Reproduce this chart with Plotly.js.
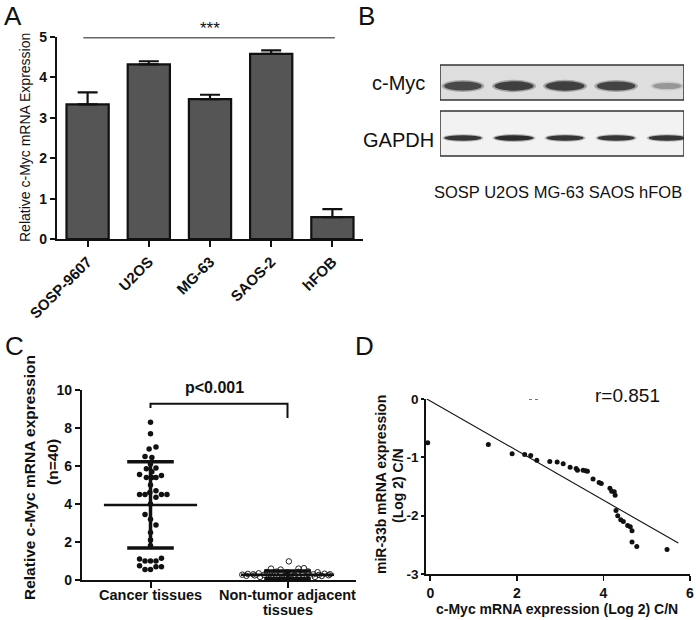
<!DOCTYPE html>
<html>
<head>
<meta charset="utf-8">
<script src="https://cdn.plot.ly/plotly-3.0.1.min.js"></script>
<style>html,body{margin:0;padding:0;background:#fff;}#chart{width:696px;height:620px;}</style>
</head>
<body>
<div id="chart"></div>
<script>
// ---------- DATA ----------
// Panel A: relative c-Myc mRNA expression in cell lines
const cellLines = ["SOSP-9607", "U2OS", "MG-63", "SAOS-2", "hFOB"];
const cellMeans = [3.33, 4.32, 3.46, 4.58, 0.54];
const cellErrs  = [0.30, 0.08, 0.11, 0.09, 0.20];

// Panel B: western blot lanes and band intensities (0-1)
const laneLabels = ["SOSP", "U2OS", "MG-63", "SAOS", "hFOB"];
const cmycIntensity  = [0.88, 0.95, 0.95, 0.93, 0.35];
const gapdhIntensity = [0.95, 1.00, 0.95, 0.95, 0.95];

// Panel C: tissue scatter (offset from group centre, value)
const tissueGroups = ["Cancer tissues", "Non-tumor adjacent<br>tissues"];
const cancerOffset = [0,0, -0.01,0.04, -0.04,0.01, -0.03,0.01,0.04, -0.08,-0.03,0.01,0.04,0.08,
  -0.08,-0.04,-0.005,0.04,0.04,0.08,0.12, -0.04,0.04, -0.08,-0.04,0,0.04,0.08,
  -0.08,-0.04,0,0.04,0.08, 0,0,0,0,0,0,0];
const cancerVals = [8.3,7.7, 6.9,7.0, 6.5,6.45, 5.85,5.7,5.9, 5.55,5.4,5.4,5.4,5.5,
  4.5,4.5,4.6,4.7,4.35,4.5,4.5, 3.45,2.9, 1.1,1.0,1.0,1.0,1.15,
  0.75,0.55,0.55,0.7,0.7, 4.0,3.2,2.5,2.1,1.8,5.0,6.1];
const normalOffset = [-0.33,-0.29,-0.25,-0.21,-0.17,-0.13,-0.09,-0.05,-0.01,0.03,0.07,0.11,0.15,0.19,0.23,0.27,0.31,
  -0.2,-0.12,-0.04,0.04,0.12,0.2, -0.15,-0.08,0.0,0.08,0.15,0.22,
  -0.12,-0.05,0.08,0.12, 0.01, -0.3,-0.24,0.25,0.3,-0.02,0.05];
const normalVals = [0.28,0.32,0.3,0.35,0.27,0.31,0.29,0.33,0.26,0.3,0.34,0.28,0.32,0.3,0.27,0.33,0.3,
  0.16,0.18,0.15,0.19,0.17,0.16, 0.42,0.44,0.4,0.43,0.45,0.41,
  0.6,0.55,0.6,0.62, 0.98, 0.22,0.24,0.21,0.25,0.2,0.23];
// [mean, lower SD, upper SD]
const cancerStats = [3.95, 1.68, 6.22];
const normalStats = [0.28, 0.08, 0.48];

// Panel D: correlation scatter
const corrX = [-0.06,1.34,1.89,2.18,2.32,2.46,2.76,2.93,3.07,3.23,3.37,3.40,3.53,3.59,3.63,3.76,3.90,3.95,
  4.15,4.19,4.25,4.27,4.29,4.33,4.40,4.46,4.56,4.62,4.66,4.66,4.77,5.47];
const corrY = [-0.75,-0.78,-0.94,-0.95,-0.97,-1.05,-1.07,-1.08,-1.11,-1.17,-1.19,-1.22,-1.22,-1.23,-1.24,-1.37,-1.43,-1.45,
  -1.53,-1.58,-1.59,-1.65,-1.91,-2.0,-2.07,-2.10,-2.17,-2.19,-2.26,-2.45,-2.53,-2.58];
const fitX = [-0.08, 5.73];
const fitY = [0.0, -2.47];

// ---------- HELPERS ----------
const W = 696, H = 620;
const px = v => v / W;
const py = v => 1 - v / H;
const FONT = 'Arial, "Liberation Sans", sans-serif';
const bold = (s) => ({family: FONT, size: s, color: '#111', weight: 'bold'});
const reg = (s) => ({family: FONT, size: s, color: '#111'});

const traces = [];
// A bars
traces.push({
  type: 'bar', x: cellLines, y: cellMeans, xaxis: 'x', yaxis: 'y', width: 0.69,
  marker: {color: '#555555', line: {color: '#111', width: 2.2}},
  error_y: {type: 'data', symmetric: false, array: cellErrs, arrayminus: cellErrs.map(() => 0),
            color: '#111', thickness: 2.2, width: 10},
  hoverinfo: 'skip'
});
// B invisible anchor trace
traces.push({type: 'scatter', mode: 'markers', x: laneLabels.map((_, i) => i), y: laneLabels.map(() => 5),
  xaxis: 'x5', yaxis: 'y5', marker: {opacity: 0}, hoverinfo: 'skip'});

// C scatter
traces.push({type: 'scatter', mode: 'markers', xaxis: 'x3', yaxis: 'y3',
  x: cancerOffset.map(o => 0 + o), y: cancerVals,
  marker: {color: '#111', size: 5.5}, cliponaxis: false, hoverinfo: 'skip'});
traces.push({type: 'scatter', mode: 'markers', xaxis: 'x3', yaxis: 'y3',
  x: normalOffset.map(o => 1 + o), y: normalVals,
  marker: {symbol: 'circle-open', color: '#222', size: 5.5, line: {width: 1}}, cliponaxis: false, hoverinfo: 'skip'});
// C mean & SD lines
[[0, cancerStats], [1, normalStats]].forEach(([g, st]) => {
  traces.push({type: 'scatter', mode: 'lines', xaxis: 'x3', yaxis: 'y3',
    x: [g - 0.34, g + 0.34], y: [st[0], st[0]], line: {color: '#111', width: 2.5}, hoverinfo: 'skip'});
  traces.push({type: 'scatter', mode: 'lines', xaxis: 'x3', yaxis: 'y3',
    x: [g - 0.17, g + 0.17, null, g - 0.17, g + 0.17, null, g, g],
    y: [st[1], st[1], null, st[2], st[2], null, st[1], st[2]],
    line: {color: '#111', width: 3.5}, hoverinfo: 'skip'});
});
// C bracket
traces.push({type: 'scatter', mode: 'lines', xaxis: 'x3', yaxis: 'y3',
  x: [0, 0, 1, 1], y: [9.05, 9.27, 9.27, 8.53], line: {color: '#111', width: 2}, cliponaxis: false, hoverinfo: 'skip'});

// D scatter and fit
traces.push({type: 'scatter', mode: 'markers', xaxis: 'x4', yaxis: 'y4', x: corrX, y: corrY,
  marker: {color: '#111', size: 5}, cliponaxis: false, hoverinfo: 'skip'});
traces.push({type: 'scatter', mode: 'lines', xaxis: 'x4', yaxis: 'y4', x: fitX, y: fitY,
  line: {color: '#111', width: 1.1}, cliponaxis: false, hoverinfo: 'skip'});

// ---------- SHAPES (panel B blot, panel A significance line) ----------
const shapes = [];
shapes.push({type: 'line', xref: 'x', yref: 'y', x0: -0.07, x1: 4.04, y0: 4.98, y1: 4.98,
  line: {color: '#666', width: 1.5}});
// blot boxes (x5 lane units, y5 arbitrary 0-10 scale)
shapes.push({type: 'rect', xref: 'x5', yref: 'y5', x0: -0.45, x1: 4.33, y0: 6.0, y1: 9.5,
  fillcolor: '#dedede', line: {color: '#333', width: 1.5}, layer: 'below'});
shapes.push({type: 'rect', xref: 'x5', yref: 'y5', x0: -0.45, x1: 4.33, y0: 0.4, y1: 4.9,
  fillcolor: '#f2f2f2', line: {color: '#333', width: 1.5}, layer: 'below'});
cmycIntensity.forEach((v, i) => {
  const hw = 0.22 + 0.17 * v, hh = 0.22 + 0.26 * v;
  shapes.push({type: 'circle', xref: 'x5', yref: 'y5', x0: i - hw - 0.05, x1: i + hw + 0.05, y0: 7.4 - hh - 0.15, y1: 7.4 + hh + 0.15,
    fillcolor: `rgba(70,70,70,${(0.4 * v).toFixed(2)})`, line: {width: 0}});
  shapes.push({type: 'circle', xref: 'x5', yref: 'y5', x0: i - hw, x1: i + hw, y0: 7.4 - hh, y1: 7.4 + hh,
    fillcolor: `rgba(40,40,40,${(0.85 * v).toFixed(2)})`, line: {width: 0}});
});
gapdhIntensity.forEach((v, i) => {
  const hw = 0.38 * v, hh = 0.28 * v;
  shapes.push({type: 'circle', xref: 'x5', yref: 'y5', x0: i - hw - 0.04, x1: i + hw + 0.04, y0: 2.2 - hh - 0.12, y1: 2.2 + hh + 0.12,
    fillcolor: `rgba(70,70,70,${(0.35 * v).toFixed(2)})`, line: {width: 0}});
  shapes.push({type: 'circle', xref: 'x5', yref: 'y5', x0: i - hw, x1: i + hw, y0: 2.2 - hh, y1: 2.2 + hh,
    fillcolor: `rgba(30,30,30,${(0.9 * v).toFixed(2)})`, line: {width: 0}});
});
// tiny dotted artefact in D
shapes.push({type: 'line', xref: 'paper', yref: 'paper', x0: px(529), x1: px(538), y0: py(399.5), y1: py(399.5),
  line: {color: '#777', width: 1, dash: 'dot'}});

// ---------- ANNOTATIONS ----------
const ann = [];
const A = (x, y, text, font, extra) => ann.push(Object.assign({xref: 'paper', yref: 'paper', x: px(x), y: py(y),
  text, font, showarrow: false, xanchor: 'center', yanchor: 'middle'}, extra || {}));
A(13, 16, 'A', reg(26));
A(367, 16, 'B', reg(26));
A(14, 346, 'C', reg(26));
A(364, 346, 'D', reg(26));
A(25, 138, 'Relative c-Myc mRNA Expression', reg(14), {textangle: -90});
ann.push({xref: 'x', yref: 'paper', x: cellLines[2], y: py(29), text: '***', font: reg(17),
  showarrow: false, xanchor: 'center', yanchor: 'middle'});
A(427, 83, 'c-Myc', reg(20), {xanchor: 'right'});
A(436, 140, 'GAPDH', reg(20), {xanchor: 'right'});
A(558, 192, laneLabels.join(' '), reg(16.5));
A(29, 478, 'Relative c-Myc mRNA expression', bold(15.5), {textangle: -90});
A(52, 462, '(n=40)', bold(15.5), {textangle: -90});
ann.push({xref: 'x3', yref: 'paper', x: 0.47, y: py(387), text: 'p&lt;0.001', font: bold(16),
  showarrow: false, xanchor: 'center', yanchor: 'middle'});
// C category labels
tissueGroups.forEach((g, i) => {
  g.split('<br>').forEach((line, j) => {
    ann.push({xref: 'x3', yref: 'paper', x: i, y: py(595 + 15 * j), text: line, font: bold(14.5),
      showarrow: false, xanchor: 'center', yanchor: 'middle'});
  });
});
A(381, 485, 'miR-33b mRNA expression', bold(14), {textangle: -90});
A(398, 486, '(Log 2) C/N', bold(14), {textangle: -90});
A(557, 609, 'c-Myc mRNA expression (Log 2) C/N', bold(14));
A(627, 395, 'r=0.851', reg(19));

const axBase = {showgrid: false, zeroline: false, showline: true, linecolor: '#111', ticks: 'outside',
  tickcolor: '#111', fixedrange: true};

const layout = {
  width: W, height: H, margin: {l: 0, r: 0, t: 0, b: 0}, showlegend: false,
  paper_bgcolor: '#fff', plot_bgcolor: 'rgba(0,0,0,0)', font: {family: FONT, color: '#111'},
  xaxis: Object.assign({}, axBase, {domain: [px(57), px(363)], anchor: 'y', type: 'category', range: [-0.5, 4.5],
    linewidth: 2.2, tickwidth: 2, ticklen: 6, tickangle: -45, tickfont: bold(15)}),
  yaxis: Object.assign({}, axBase, {domain: [py(239), py(37)], anchor: 'x', range: [0, 5], dtick: 1,
    linewidth: 2.2, tickwidth: 2, ticklen: 5, tickfont: bold(14)}),
  xaxis3: Object.assign({}, axBase, {domain: [px(82), px(356)], anchor: 'y3', range: [-0.5, 1.5],
    tickvals: [0, 1], showticklabels: false, linewidth: 2.2, tickwidth: 2, ticklen: 6}),
  yaxis3: Object.assign({}, axBase, {domain: [py(580), py(390)], anchor: 'x3', range: [0, 10], dtick: 2,
    linewidth: 2.2, tickwidth: 2, ticklen: 5, tickfont: bold(14)}),
  xaxis4: Object.assign({}, axBase, {domain: [px(426), px(690)], anchor: 'y4', range: [-0.1, 6],
    tickvals: [0, 2, 4, 6], linewidth: 1.8, tickwidth: 1.8, ticklen: 5, tickfont: bold(14)}),
  yaxis4: Object.assign({}, axBase, {domain: [py(574), py(399)], anchor: 'x4', range: [-3, 0],
    tickvals: [-3, -2, -1, 0], ticktext: ['-3', '-2', '-1', '0'], linewidth: 1.8, tickwidth: 1.8, ticklen: 3, tickfont: bold(13.5)}),
  xaxis5: {domain: [px(440), px(684)], anchor: 'y5', range: [-0.45, 4.33], visible: false, fixedrange: true},
  yaxis5: {domain: [py(160), py(60)], anchor: 'x5', range: [0, 10], visible: false, fixedrange: true},
  shapes: shapes, annotations: ann
};

Plotly.newPlot('chart', traces, layout, {displayModeBar: false, staticPlot: true});
</script>
</body>
</html>
